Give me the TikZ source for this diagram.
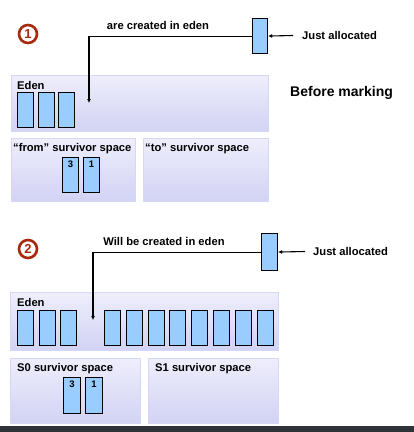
\documentclass[tikz,border=0pt]{standalone}
\usepackage{fontspec}
\setmainfont{Liberation Sans}
\usepackage{tikz}
\usetikzlibrary{arrows.meta}
\usetikzlibrary{positioning}

\definecolor{ringred}{RGB}{168,42,14}
\definecolor{objblue}{RGB}{153,204,255}
\definecolor{spacetop}{RGB}{238,238,252}
\definecolor{spacebot}{RGB}{210,210,244}
\definecolor{spaceline}{RGB}{214,214,246}
\definecolor{barcol}{RGB}{46,51,57}

\tikzset{
  space/.style={draw=spaceline,top color=spacetop,bottom color=spacebot,inner sep=0pt,anchor=north west},
  obj/.style={draw=black,fill=objblue,line width=1.1pt,inner sep=0pt,minimum width=16pt,anchor=north west},
  lbl/.style={font=\fontsize{11.2}{13}\selectfont\bfseries,inner sep=0pt},
  num/.style={font=\fontsize{9.5}{11}\selectfont\bfseries,inner sep=0pt,anchor=north,yshift=-4pt},
  step no/.style={circle,draw=ringred,line width=2.6pt,text=ringred,minimum size=18pt,inner sep=0pt,font=\fontsize{13}{14}\selectfont\bfseries},
  arr/.style={line width=1.1pt,-{Latex[length=4pt,width=4pt]}}
}

\begin{document}
\begin{tikzpicture}[x=1pt,y=-1pt]

\fill[white] (0,0) rectangle (414,432);
\useasboundingbox (0,0) rectangle (414,432);
\fill[barcol] (0,426) rectangle (414,432);

% step 1
\node[step no] (no1) at (28,34) {1};

\node[space,minimum width=257pt,minimum height=56pt] (eden1) at (11,75) {};
\node[space,minimum width=124pt,minimum height=63pt] (from1) at (11,138) {};
\node[space,minimum width=125pt,minimum height=63pt] (to1) at (143,138) {};

\node[lbl,anchor=west] (edenl1) at (17,85) {Eden};
\node[lbl,anchor=west] (froml1) at (13,149) {“from” survivor space};
\node[lbl,anchor=west] (tol1) at (145,149) {“to” survivor space};
\node[lbl,anchor=west,font=\fontsize{14}{16}\selectfont\bfseries] (before) at (290,93) {Before marking};

\foreach \i/\x in {0/17,1/37.5,2/58}
  \node[obj,minimum height=35pt] (e1\i) at (\x,92) {};

\node[obj,minimum height=35pt,label={[num]north:3}] (s3a) at (62,157) {};
\node[obj,minimum height=35pt,label={[num]north:1}] (s1a) at (83,157) {};

\node[obj,minimum width=15pt,minimum height=35pt] (new1) at (252,18) {};
\coordinate (tip1) at (89,103);
\draw[arr] (new1.west) -| (tip1);
\node[lbl] (made1) at (158,25) {are created in eden};
\node[lbl,anchor=west] (just1) at (302,35.5) {Just allocated};
\draw[arr] ([xshift=-9pt]just1.west) -- (new1.east);

% step 2
\node[step no] (no2) at (28,249) {2};

\node[space,minimum width=268pt,minimum height=58pt] (eden2) at (10,292) {};
\node[space,minimum width=130pt,minimum height=65pt] (s0) at (10,358) {};
\node[space,minimum width=130pt,minimum height=65pt] (s1) at (148,358) {};

\node[lbl,anchor=west] (edenl2) at (17,302) {Eden};
\node[lbl,anchor=west] (s0l) at (17,369) {S0 survivor space};
\node[lbl,anchor=west] (s1l) at (155,369) {S1 survivor space};

\foreach \i/\x in {0/17,1/38.5,2/60,3/104,4/126,5/147.5,6/169,7/191,8/213,9/235,10/257}
  \node[obj,minimum height=35pt] (e2\i) at (\x,310) {};

\node[obj,minimum width=17pt,minimum height=36pt,label={[num]north:3}] (s3b) at (63,377) {};
\node[obj,minimum width=17pt,minimum height=36pt,label={[num]north:1}] (s1b) at (85,377) {};

\node[obj,minimum width=16pt,minimum height=37pt] (new2) at (261,233) {};
\coordinate (tip2) at (93,320);
\draw[arr] (new2.west) -| (tip2);
\node[lbl] (made2) at (164,241) {Will be created in eden};
\node[lbl,anchor=west] (just2) at (313,251.5) {Just allocated};
\draw[arr] ([xshift=-8pt]just2.west) -- (new2.east);

\end{tikzpicture}
\end{document}
